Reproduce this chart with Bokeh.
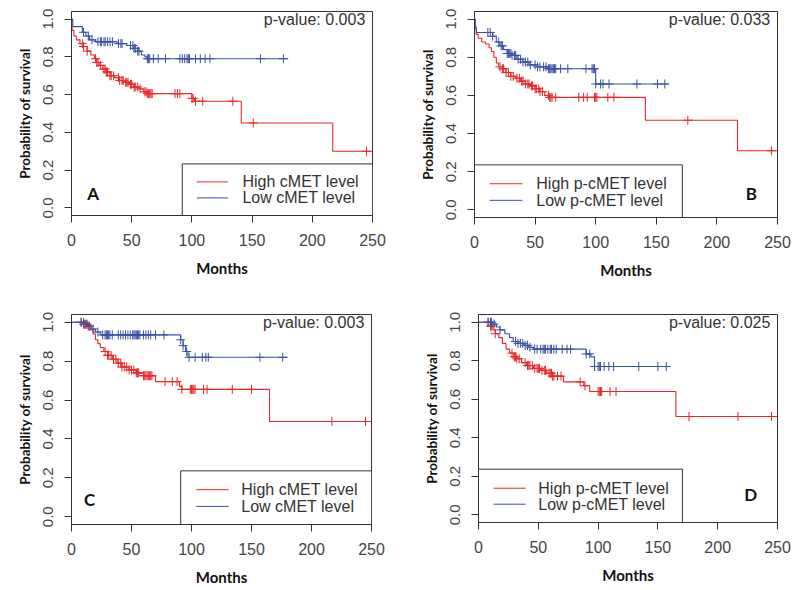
import numpy as np
from bokeh.plotting import figure
from bokeh.layouts import column, row
from bokeh.models import Range1d, FixedTicker
from bokeh.core.properties import value
from bokeh.embed import file_html
from bokeh.resources import INLINE

# ---------------- data ----------------
x_ticks = [0, 50, 100, 150, 200, 250]
y_ticks = [0.0, 0.2, 0.4, 0.6, 0.8, 1.0]
y_tick_labels = ["0.0", "0.2", "0.4", "0.6", "0.8", "1.0"]
x_label = "Months"
y_label = "Probability of survival"

# Panel A (cMET)
A_high_t = [0, 0.5, 2, 4, 7, 10, 13, 16, 19, 21, 23, 26, 29, 32, 36, 40, 44, 48, 52, 56, 60, 63, 100, 102, 141, 217]
A_high_s = [1.0, 0.94, 0.91, 0.89, 0.87, 0.855, 0.83, 0.81, 0.79, 0.77, 0.755, 0.735, 0.72, 0.70, 0.69, 0.675, 0.665, 0.655, 0.64, 0.63, 0.615, 0.605, 0.58, 0.565, 0.45, 0.30]
A_high_end = 250
A_high_cens = [9, 10, 13, 20, 21, 22, 24, 27, 28, 29, 30, 32, 33, 35, 39, 40, 42, 43, 45, 46, 47, 49, 50, 52, 53, 55, 57,
               61, 62, 63, 64, 65, 66, 67, 86, 88, 90, 100, 101, 103, 109, 134, 151, 245]
A_low_t = [0, 1, 9, 12, 15, 20, 38, 46, 52, 55, 58, 61, 63]
A_low_s = [1.0, 0.96, 0.93, 0.91, 0.89, 0.88, 0.87, 0.86, 0.845, 0.83, 0.81, 0.80, 0.79]
A_low_end = 180
A_low_cens = [10, 14, 17, 22, 24, 25, 27, 28, 30, 32, 34, 39, 41, 42, 49, 51, 52, 53, 55, 56, 63, 64, 65, 68, 72, 78,
              90, 92, 94, 96, 97, 98, 103, 107, 111, 115, 157, 176]

# Panel B (p-cMET)
B_high_t = [0, 0.5, 1.5, 3, 6, 9, 12, 14, 16, 18, 20, 23, 26, 30, 34, 38, 42, 46, 50, 54, 58, 62, 141, 217]
B_high_s = [1.0, 0.95, 0.92, 0.90, 0.88, 0.87, 0.85, 0.83, 0.80, 0.77, 0.75, 0.74, 0.72, 0.70, 0.69, 0.675, 0.66, 0.65, 0.635, 0.62, 0.60, 0.59, 0.47, 0.31]
B_high_end = 250
B_high_cens = [21, 23, 24, 26, 28, 30, 32, 35, 37, 39, 40, 42, 44, 45, 47, 48, 50, 51, 53, 54, 56, 61, 62, 63, 64, 67,
               86, 90, 93, 99, 100, 101, 110, 115, 176, 245]
B_low_t = [0, 0.5, 1.5, 15, 18, 21, 24, 27, 31, 35, 40, 45, 52, 60, 100]
B_low_s = [1.0, 0.96, 0.93, 0.91, 0.88, 0.86, 0.84, 0.82, 0.81, 0.79, 0.775, 0.76, 0.75, 0.74, 0.66]
B_low_end = 160
B_low_cens = [11, 13, 15, 20, 22, 23, 27, 28, 29, 30, 31, 33, 34, 36, 38, 40, 42, 44, 46, 50, 52, 54, 57, 59, 61, 62,
              63, 64, 65, 66, 67, 71, 77, 92, 97, 98, 99, 100, 104, 106, 111, 134, 151, 157]

# Panel C (cMET)
C_high_t = [0, 10, 13, 16, 18, 20, 22, 24, 27, 30, 34, 38, 42, 48, 54, 60, 70, 90, 92, 165]
C_high_s = [1.0, 0.99, 0.98, 0.96, 0.94, 0.91, 0.89, 0.87, 0.85, 0.83, 0.81, 0.79, 0.77, 0.755, 0.74, 0.725, 0.695, 0.67, 0.655, 0.49]
C_high_end = 250
C_high_cens = [8, 10, 11, 12, 14, 15, 28, 30, 31, 33, 35, 37, 39, 41, 42, 44, 46, 48, 50, 52, 54, 55, 56, 60, 61, 62,
               63, 64, 65, 66, 67, 78, 84, 88, 92, 99, 100, 101, 102, 103, 110, 113, 134, 150, 217, 245]
C_low_t = [0, 12, 14, 17, 20, 24, 91, 93, 95, 97]
C_low_s = [1.0, 0.99, 0.98, 0.965, 0.95, 0.935, 0.91, 0.88, 0.85, 0.82]
C_low_end = 180
C_low_cens = [8, 10, 12, 13, 18, 22, 26, 28, 29, 30, 31, 32, 34, 39, 41, 43, 45, 47, 49, 51, 52, 53, 54, 55, 56, 57,
              60, 62, 64, 66, 70, 77, 91, 93, 96, 98, 103, 109, 112, 114, 157, 176]

# Panel D (p-cMET)
D_high_t = [0, 10, 12, 14, 17, 20, 23, 26, 29, 32, 36, 40, 46, 52, 57, 62, 71, 88, 93, 165]
D_high_s = [1.0, 0.98, 0.96, 0.94, 0.92, 0.89, 0.86, 0.84, 0.82, 0.81, 0.79, 0.775, 0.76, 0.75, 0.735, 0.72, 0.69, 0.67, 0.64, 0.51]
D_high_end = 250
D_high_cens = [8, 10, 11, 14, 28, 30, 31, 32, 34, 39, 41, 42, 43, 45, 47, 49, 50, 51, 53, 55, 56, 59, 60, 61, 62, 63,
               66, 69, 85, 89, 100, 101, 102, 103, 110, 115, 176, 217, 245]
D_low_t = [0, 12, 15, 18, 22, 26, 29, 33, 38, 42, 46, 90, 94, 97]
D_low_s = [1.0, 0.99, 0.975, 0.96, 0.94, 0.92, 0.90, 0.89, 0.88, 0.87, 0.86, 0.835, 0.82, 0.77]
D_low_end = 160
D_low_cens = [8, 10, 11, 13, 18, 31, 33, 35, 37, 39, 41, 43, 47, 49, 52, 54, 55, 56, 58, 60, 61, 63, 65, 70, 74, 77,
              90, 93, 97, 100, 101, 102, 105, 109, 113, 134, 150, 157]

legend_cmet = ["High cMET level", "Low cMET level"]
legend_pcmet = ["High p-cMET level", "Low p-cMET level"]
p_values = ["p-value: 0.003", "p-value: 0.033", "p-value: 0.003", "p-value: 0.025"]
letters = ["A", "B", "C", "D"]

# ---------------- style ----------------
RED = "#e8282c"
BLUE = "#3a52a3"
GRAY = "#444444"
SANS = "Liberation Sans"
BOLD = "Lato"


def surv_at(t, s, times):
    t = np.asarray(t, dtype=float)
    s = np.asarray(s, dtype=float)
    idx = np.searchsorted(t, np.asarray(times, dtype=float), side="right") - 1
    return s[idx]


def make_panel(high, low, legend, pval, letter, geo, leg):
    fw, fh, ml, mr, mt, mb = geo
    p = figure(frame_width=fw, frame_height=fh,
               min_border_left=ml, min_border_right=mr,
               min_border_top=mt, min_border_bottom=mb,
               x_range=Range1d(0, 250), y_range=Range1d(-0.04, 1.04),
               output_backend="svg", toolbar_location=None, tools="")
    p.background_fill_color = "white"
    p.border_fill_color = "white"
    p.outline_line_color = "#333333"
    p.outline_line_width = 1
    p.xgrid.visible = False
    p.ygrid.visible = False

    for ax in (p.xaxis[0], p.yaxis[0]):
        ax.axis_line_color = "#333333"
        ax.major_tick_line_color = "#333333"
        ax.major_tick_in = 0
        ax.major_tick_out = 7
        ax.minor_tick_line_color = None
        ax.major_label_text_font = SANS
        ax.major_label_text_color = GRAY
        ax.axis_label_text_font = BOLD
        ax.axis_label_text_font_style = "bold"
        ax.axis_label_text_color = "#111111"

    p.xaxis.ticker = FixedTicker(ticks=x_ticks)
    p.yaxis.ticker = FixedTicker(ticks=y_ticks)
    p.yaxis.major_label_overrides = {v: l for v, l in zip(y_ticks, y_tick_labels)}
    p.yaxis.major_label_orientation = "vertical"
    p.xaxis.major_label_text_font_size = "16px"
    p.yaxis.major_label_text_font_size = "15px"
    p.xaxis.axis_label = x_label
    p.yaxis.axis_label = y_label
    p.xaxis.axis_label_text_font_size = "15px"
    p.yaxis.axis_label_text_font_size = "13.5px"
    p.xaxis.major_label_standoff = 11
    p.xaxis.axis_label_standoff = 10
    p.yaxis.major_label_standoff = 11
    p.yaxis.axis_label_standoff = 8

    for (t, s, end, cens), col in ((high, RED), (low, BLUE)):
        xs = list(t) + [end]
        ys = list(s) + [s[-1]]
        p.step(x=xs, y=ys, mode="after", line_color=col, line_width=1.1)
        p.scatter(x=cens, y=surv_at(t, s, cens), marker="cross", size=9,
                  line_color=col, line_width=1)

    # legend box
    bl, br, bt, lx0, lx1, ly1, ly2, tx, letx, lety = leg
    p.quad(left=[bl], right=[br], top=[bt], bottom=[-0.04],
           fill_color="white", line_color="#333333", line_width=1)
    p.segment(x0=[lx0, lx0], y0=[ly1, ly2], x1=[lx1, lx1], y1=[ly1, ly2],
              line_color=[RED, BLUE], line_width=1)
    p.text(x=[tx, tx], y=[ly1, ly2], text=legend, text_font=value(SANS),
           text_font_size="16px", text_color="#333333",
           text_align="left", text_baseline="middle")
    p.text(x=[letx], y=[lety], text=[letter], text_font=value(BOLD),
           text_font_style="bold", text_font_size="17px", text_color="#111111",
           text_align="center", text_baseline="middle")
    p.text(x=[244], y=[1.0], text=[pval], text_font=value(SANS),
           text_font_size="16px", text_color="#333333",
           text_align="right", text_baseline="middle")
    return p


pA = make_panel((A_high_t, A_high_s, A_high_end, A_high_cens),
                (A_low_t, A_low_s, A_low_end, A_low_cens),
                legend_cmet, p_values[0], letters[0],
                (301, 204, 71, 39, 11, 87),
                (92, 250, 0.233, 104, 130, 0.138, 0.053, 142, 18, 0.077))
pB = make_panel((B_high_t, B_high_s, B_high_end, B_high_cens),
                (B_low_t, B_low_s, B_low_end, B_low_cens),
                legend_pcmet, p_values[1], letters[1],
                (303, 206, 63, 15, 10, 86),
                (0, 171.5, 0.236, 12.5, 39.5, 0.137, 0.05, 51, 228.5, 0.086))
pC = make_panel((C_high_t, C_high_s, C_high_end, C_high_cens),
                (C_low_t, C_low_s, C_low_end, C_low_cens),
                legend_cmet, p_values[2], letters[2],
                (300, 210, 71, 44, 12, 65),
                (91, 250, 0.236, 104, 131, 0.139, 0.053, 141.5, 15, 0.088))
pD = make_panel((D_high_t, D_high_s, D_high_end, D_high_cens),
                (D_low_t, D_low_s, D_low_end, D_low_cens),
                legend_pcmet, p_values[3], letters[3],
                (299, 208, 63, 15, 11, 68),
                (0, 170.5, 0.237, 12.5, 39.5, 0.138, 0.055, 50, 227.5, 0.104))

layout = column(row(pA, pB), row(pC, pD))
open("out.html", "w").write(file_html(layout, INLINE))
